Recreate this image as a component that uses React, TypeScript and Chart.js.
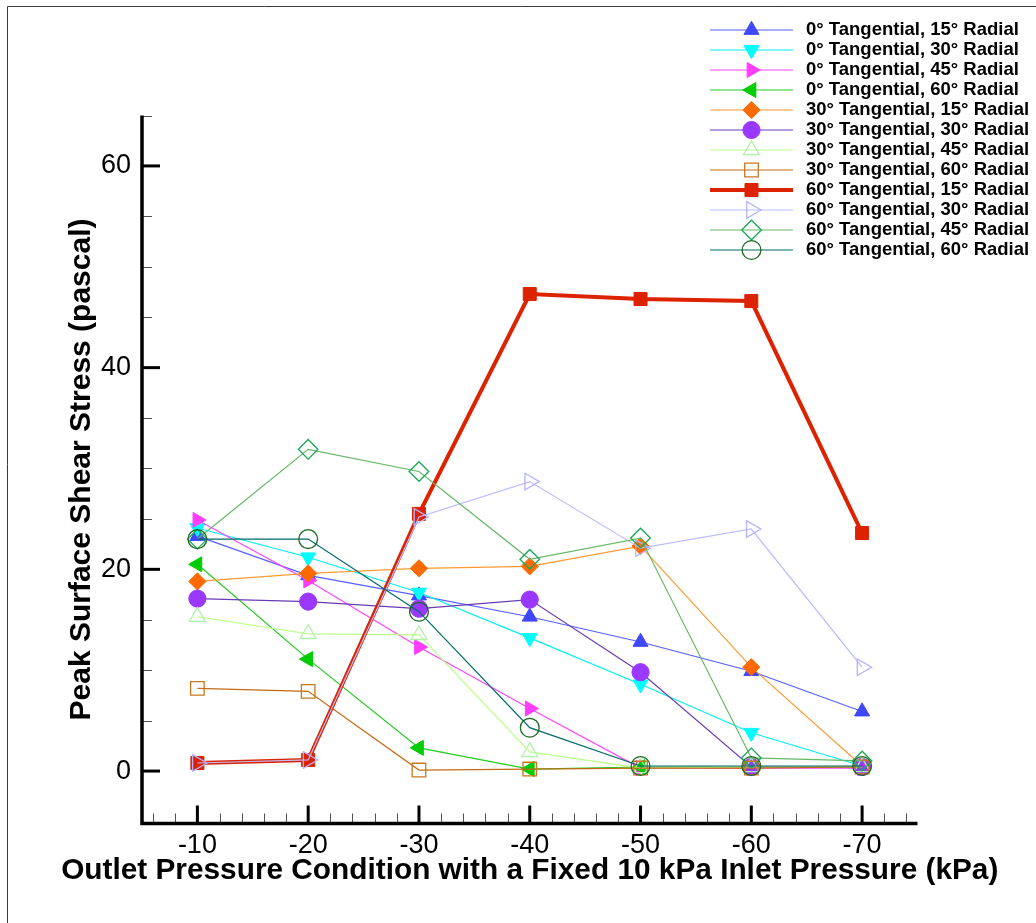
import React, { useEffect, useRef } from 'react';
import { Chart, registerables } from 'chart.js';
import { drawPoint } from 'chart.js/helpers';

Chart.register(...registerables);

// ---------- data ----------
const pressures = [-10, -20, -30, -40, -50, -60, -70];

const t0r15 = [23.3, 19.4, 17.4, 15.3, 12.8, 9.9, 5.9];
const t0r30 = [24.1, 21.2, 17.7, 13.2, 8.6, 3.8, 0.5];
const t0r45 = [24.9, 18.9, 12.3, 6.2, 0.3, 0.3, 0.3];
const t0r60 = [20.5, 11.1, 2.3, 0.2, 0.4, 0.4, 0.4];
const t30r15 = [18.8, 19.6, 20.1, 20.3, 22.3, 10.3, 0.5];
const t30r30 = [17.1, 16.8, 16.1, 17.0, 9.8, 0.4, 0.4];
const t30r45 = [15.3, 13.6, 13.5, 1.9, 0.3, 0.4, 0.4];
const t30r60 = [8.2, 7.9, 0.1, 0.2, 0.3, 0.3, 0.4];
const t60r15 = [0.8, 1.1, 25.5, 47.3, 46.8, 46.6, 23.6];
const t60r30 = [0.8, 1.1, 25.2, 28.7, 22.1, 24.0, 10.3];
const t60r45 = [23.0, 31.9, 29.7, 21.0, 23.1, 1.3, 1.0];
const t60r60 = [23.0, 23.0, 15.8, 4.3, 0.5, 0.5, 0.5];

const xTickValues = [-10, -20, -30, -40, -50, -60, -70];
const xMinorTickValues = [-6, -8, -12, -14, -16, -18, -22, -24, -26, -28, -32, -34, -36, -38, -42, -44, -46, -48, -52, -54, -56, -58, -62, -64, -66, -68, -72, -74];
const yTickValues = [0, 20, 40, 60];
const yMinorTickValues = [5, 10, 15, 25, 30, 35, 45, 50, 55, 65];

const xTitle = 'Outlet Pressure Condition with a Fixed 10 kPa Inlet Pressure (kPa)';
const yTitle = 'Peak Surface Shear Stress (pascal)';

// ---------- series styling ----------
type Spec = {
  label: string;
  values: number[];
  line: string;
  marker: string;
  filled: boolean;
  style: string;
  rotation: number;
  radius: number;
  width: number;
};

const specs: Spec[] = [
  { label: '0° Tangential, 15° Radial', values: t0r15, line: '#5560ff', marker: '#3f48ff', filled: true, style: 'triangle', rotation: 0, radius: 8.7, width: 1.2 },
  { label: '0° Tangential, 30° Radial', values: t0r30, line: '#00f0f0', marker: '#00ffff', filled: true, style: 'triangle', rotation: 180, radius: 8.7, width: 1.2 },
  { label: '0° Tangential, 45° Radial', values: t0r45, line: '#ff44ff', marker: '#ff3dff', filled: true, style: 'triangle', rotation: 90, radius: 8.7, width: 1.2 },
  { label: '0° Tangential, 60° Radial', values: t0r60, line: '#22cc22', marker: '#00cc00', filled: true, style: 'triangle', rotation: 270, radius: 8.7, width: 1.2 },
  { label: '30° Tangential, 15° Radial', values: t30r15, line: '#ff9a33', marker: '#ff6a00', filled: true, style: 'rectRot', rotation: 0, radius: 8.6, width: 1.2 },
  { label: '30° Tangential, 30° Radial', values: t30r30, line: '#6a3ab5', marker: '#9a38ff', filled: true, style: 'circle', rotation: 0, radius: 8.6, width: 1.2 },
  { label: '30° Tangential, 45° Radial', values: t30r45, line: '#bbff88', marker: '#b0f0a8', filled: false, style: 'triangle', rotation: 0, radius: 9.2, width: 1.2 },
  { label: '30° Tangential, 60° Radial', values: t30r60, line: '#c46a14', marker: '#c8781e', filled: false, style: 'rect', rotation: 0, radius: 9.6, width: 1.2 },
  { label: '60° Tangential, 15° Radial', values: t60r15, line: '#dd2200', marker: '#dd2200', filled: true, style: 'rect', rotation: 0, radius: 9.2, width: 4 },
  { label: '60° Tangential, 30° Radial', values: t60r30, line: '#bcbcff', marker: '#b4b4ff', filled: false, style: 'triangle', rotation: 90, radius: 9.6, width: 1.2 },
  { label: '60° Tangential, 45° Radial', values: t60r45, line: '#66b866', marker: '#18aa55', filled: false, style: 'rectRot', rotation: 0, radius: 9.8, width: 1.2 },
  { label: '60° Tangential, 60° Radial', values: t60r60, line: '#006a6a', marker: '#1a6a20', filled: false, style: 'circle', rotation: 0, radius: 9.4, width: 1.2 },
];

const FONT = '"Liberation Sans", Arial, Helvetica, sans-serif';

// legend layout
const legendTop = 30;
const legendRow = 20;
const legendLineX0 = 710;
const legendLineX1 = 793;
const legendMarkerX = 751.5;
const legendTextX = 806;

// x-axis title offset below the plot
const xTitleOffset = 47.5;

const framePlugin = {
  id: 'frame',
  beforeDraw(chart: any) {
    const ctx = chart.ctx;
    ctx.save();
    ctx.fillStyle = '#ffffff';
    ctx.fillRect(0, 0, chart.width, chart.height);
    ctx.strokeStyle = '#3a3a3a';
    ctx.lineWidth = 1;
    ctx.beginPath();
    ctx.moveTo(7.5, chart.height);
    ctx.lineTo(7.5, 6.5);
    ctx.lineTo(chart.width, 6.5);
    ctx.stroke();
    ctx.restore();
  },
};

const axesPlugin = {
  id: 'tecAxes',
  beforeDatasetsDraw(chart: any) {
    const { ctx, chartArea: a, scales } = chart;
    const xs = scales.x;
    const ys = scales.y;
    ctx.save();
    const seg = (x0: number, y0: number, x1: number, y1: number) => {
      ctx.beginPath();
      ctx.moveTo(x0, y0);
      ctx.lineTo(x1, y1);
      ctx.stroke();
    };
    // minor ticks
    ctx.strokeStyle = '#505050';
    ctx.lineWidth = 1;
    yMinorTickValues.forEach((v) => {
      const py = Math.round(ys.getPixelForValue(v)) + 0.5;
      seg(a.left, py, a.left + 10, py);
    });
    xMinorTickValues.forEach((v) => {
      const px = Math.round(xs.getPixelForValue(v)) + 0.5;
      seg(px, a.bottom, px, a.bottom - 10);
    });
    // major ticks
    ctx.strokeStyle = '#000';
    ctx.lineWidth = 3;
    yTickValues.forEach((v) => {
      const py = ys.getPixelForValue(v);
      seg(a.left, py, a.left + 18, py);
    });
    xTickValues.forEach((v) => {
      const px = xs.getPixelForValue(v);
      seg(px, a.bottom, px, a.bottom - 18);
    });
    // axis lines
    ctx.lineWidth = 3.5;
    ctx.beginPath();
    ctx.moveTo(a.left, a.top);
    ctx.lineTo(a.left, a.bottom);
    ctx.lineTo(a.right, a.bottom);
    ctx.stroke();
    ctx.restore();
  },
  afterDraw(chart: any) {
    // x-axis title (drawn without Chart.js's max-width squeeze)
    const { ctx, chartArea: a } = chart;
    ctx.save();
    ctx.fillStyle = '#000';
    ctx.font = `bold 29.8px ${FONT}`;
    ctx.textAlign = 'center';
    ctx.textBaseline = 'middle';
    ctx.fillText(xTitle, (a.left + a.right) / 2, a.bottom + xTitleOffset);
    ctx.restore();
  },
};

const legendPlugin = {
  id: 'tecLegend',
  afterDraw(chart: any) {
    const ctx = chart.ctx;
    ctx.save();
    chart.data.datasets.forEach((ds: any, i: number) => {
      const cy = legendTop + i * legendRow;
      ctx.strokeStyle = ds.borderColor;
      ctx.lineWidth = ds.borderWidth;
      ctx.beginPath();
      ctx.moveTo(legendLineX0, cy);
      ctx.lineTo(legendLineX1, cy);
      ctx.stroke();
      ctx.fillStyle = ds.pointBackgroundColor;
      ctx.strokeStyle = ds.pointBorderColor;
      ctx.lineWidth = ds.pointBorderWidth;
      drawPoint(
        ctx,
        {
          pointStyle: ds.pointStyle,
          rotation: ds.pointRotation,
          radius: ds.pointRadius,
          borderWidth: ds.pointBorderWidth,
        } as any,
        legendMarkerX,
        cy,
      );
      ctx.fillStyle = '#000';
      ctx.font = `bold 18.5px ${FONT}`;
      ctx.textAlign = 'left';
      ctx.textBaseline = 'middle';
      ctx.fillText(ds.label, legendTextX, cy);
    });
    ctx.restore();
  },
};

export default function App() {
  const canvasRef = useRef<HTMLCanvasElement | null>(null);

  useEffect(() => {
    if (!canvasRef.current) return;
    const n = specs.length;
    const datasets = specs.map((s, i) => ({
      label: s.label,
      data: pressures.map((p, k) => ({ x: p, y: s.values[k] })),
      borderColor: s.line,
      borderWidth: s.width,
      backgroundColor: s.line,
      pointStyle: s.style,
      pointRotation: s.rotation,
      pointRadius: s.radius,
      pointHoverRadius: s.radius,
      pointBackgroundColor: s.filled ? s.marker : 'rgba(0,0,0,0)',
      pointBorderColor: s.marker,
      pointBorderWidth: s.filled ? 1 : 1.3,
      tension: 0,
      fill: false,
      order: n - i,
      clip: false as any,
    }));

    const chart = new Chart(canvasRef.current, {
      type: 'line',
      data: { datasets },
      options: {
        responsive: false,
        animation: false,
        events: [],
        layout: { padding: { top: 115.5, right: 118.5, left: 0, bottom: 0 } },
        plugins: {
          legend: { display: false },
          tooltip: { enabled: false },
          title: { display: false },
        },
        scales: {
          x: {
            type: 'linear',
            reverse: true,
            min: -75,
            max: -5,
            afterBuildTicks: (s: any) => {
              s.ticks = xTickValues.map((v) => ({ value: v }));
            },
            afterFit: (s: any) => {
              s.height = 99.5;
            },
            grid: { display: false, drawTicks: false },
            border: { display: false },
            ticks: {
              autoSkip: false,
              maxRotation: 0,
              color: '#000',
              padding: 6,
              font: { family: FONT, size: 27 },
              callback: (v: any) => String(v),
            },
            title: { display: false },
          },
          y: {
            type: 'linear',
            min: -5.2,
            max: 65,
            afterBuildTicks: (s: any) => {
              s.ticks = yTickValues.map((v) => ({ value: v }));
            },
            afterFit: (s: any) => {
              s.width = 142;
            },
            grid: { display: false, drawTicks: false },
            border: { display: false },
            ticks: {
              autoSkip: false,
              color: '#000',
              padding: 11,
              font: { family: FONT, size: 27 },
              callback: (v: any) => String(v),
            },
            title: {
              display: true,
              text: yTitle,
              color: '#000',
              font: { family: FONT, size: 30, weight: 'bold' },
              padding: { top: 64, bottom: 0 },
            },
          },
        },
      },
      plugins: [framePlugin, axesPlugin, legendPlugin],
    } as any);

    return () => chart.destroy();
  }, []);

  return (
    <div style={{ position: 'absolute', left: 0, top: 0, width: 1036, height: 923, background: '#fff' }}>
      <canvas ref={canvasRef} width={1036} height={923} style={{ display: 'block', width: 1036, height: 923 }} />
    </div>
  );
}
